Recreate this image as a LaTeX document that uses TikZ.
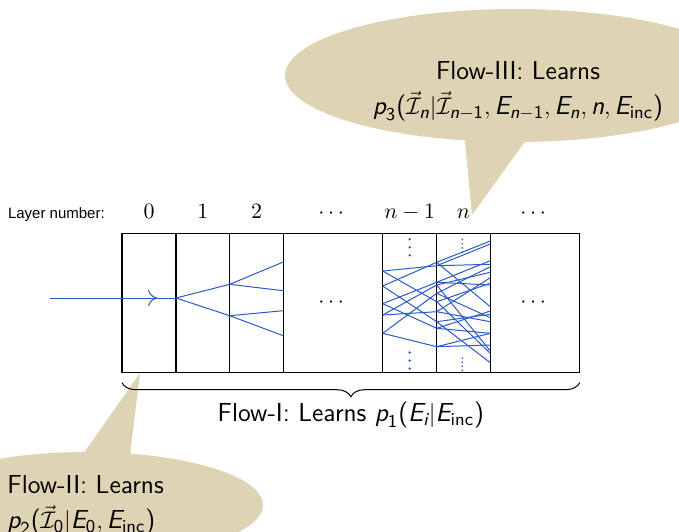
\documentclass[tikz,border=0pt]{standalone}
\usepackage{amsmath}
\usepackage{fontspec}
\usetikzlibrary{arrows.meta,positioning,backgrounds,shapes.callouts,decorations.pathreplacing,decorations.markings}
\newfontfamily\arialfont{Liberation Sans}
\definecolor{bubblecol}{RGB}{222,211,178}
\definecolor{flowblue}{RGB}{45,90,200}
% sans letters inside math
\newcommand{\si}[1]{\text{\itshape #1}}
\newcommand{\su}[1]{\text{#1}}

\begin{document}
\begin{tikzpicture}[
    x=0.5pt, y=-0.5pt,
    layerbox/.style={draw, line width=0.6pt, minimum height=69.7pt, inner sep=0pt, outer sep=0pt},
    layerlbl/.style={inner sep=0pt, text depth=0pt, font=\fontsize{11}{13}\selectfont},
    layernum/.style={inner sep=0pt, font=\arialfont\fontsize{7.5}{9}\selectfont},
    flow/.style={flowblue, line width=0.5pt},
    flowarrow/.style={flow, postaction={decorate},
                decoration={markings, mark=at position 0.85 with {\arrow{To[length=4.5pt,width=8pt]}}}},
    bubble/.style={ellipse callout, fill=bubblecol, draw=none, callout pointer arc=15},
    bubtext/.style={inner sep=0pt, font=\fontsize{13}{17.5}\selectfont\sffamily},
    vdot/.style={fill=flowblue, draw=none},
    brace/.style={decorate, decoration={brace, mirror, amplitude=7pt, raise=5pt}, line width=0.5pt}
]
\useasboundingbox (0,0) rectangle (679,531);

\node[layerbox, minimum width=27pt, anchor=north west] (L0) at (122,233.3) {};
\node[layerbox, minimum width=26.85pt, right=0pt of L0] (L1) {};
\node[layerbox, minimum width=26.8pt, right=0pt of L1] (L2) {};
\node[layerbox, minimum width=49.7pt, right=0pt of L2] (Ld) {};
\node[layerbox, minimum width=27pt, right=0pt of Ld] (Lm) {};
\node[layerbox, minimum width=26.8pt, right=0pt of Lm] (Ln) {};
\node[layerbox, minimum width=44.7pt, right=0pt of Ln] (Le) {};

\node[layerlbl, above=7pt of L0] (n0) {$0$};
\node[layerlbl, above=7pt of L1] (n1) {$1$};
\node[layerlbl, above=7pt of L2] (n2) {$2$};
\node[layerlbl, above=7pt of Ld] (nd) {$\cdots$};
\node[layerlbl, above=7pt of Lm] (nm) {$n-1$};
\node[layerlbl, above=7pt of Ln] (nn) {$n$};
\node[layerlbl, above=7pt of Le] (ne) {$\cdots$};
\node[layernum, anchor=base east] (lnum) at ([xshift=-19pt]n0.base west) {Layer number:};

\node[layerlbl] (cd) at (Ld) {$\cdots$};
\node[layerlbl] (ce) at (Le) {$\cdots$};

\coordinate (in) at (50,298);
\coordinate (s0) at (L1.west |- in);
\draw[flowarrow] (in) -- (s0);
\foreach \ya/\yb in {298/284.3, 298/315.7}
    \draw[flow] (L1.west |- 0,\ya) -- (L1.east |- 0,\yb);
\foreach \ya/\yb in {284.3/262, 284.3/290.7, 315.7/310.7, 315.7/335.7}
    \draw[flow] (L2.west |- 0,\ya) -- (L2.east |- 0,\yb);
\foreach \ya/\yb in {271/265.7, 271/301.7, 286/262.3, 286/321.7, 303.7/282.3, 303.7/328.3,
                     315/285, 315/311.7, 333.3/293.3, 333.3/346.7}
    \draw[flow] (Lm.west |- 0,\ya) -- (Lm.east |- 0,\yb);
\foreach \ya/\yb in {262.3/241, 262.3/306.7, 265.7/244, 265.7/264.3, 282.3/260.7, 282.3/285,
                     285/272.3, 285/351, 293.3/266.7, 293.3/317.7, 301.7/283.3, 301.7/353.3,
                     311.7/277.7, 311.7/321.7, 321.7/314.3, 321.7/362.7, 328.3/311, 328.3/333.3,
                     346.7/333.3, 346.7/345}
    \draw[flow] (Ln.west |- 0,\ya) -- (Ln.east |- 0,\yb);

\foreach \y in {239.3, 247.3, 255.3, 352.5, 360.5, 368.5}
    \fill[vdot] (Lm.north |- 0,\y) circle[radius=0.65pt];
\foreach \y in {239.5, 243.7, 247.9, 252.1, 358, 362.2, 366.4, 370.4}
    \fill[vdot] ([xshift=-0.6pt]Ln.north |- 0,\y) circle[radius=0.45pt];

\draw[brace] (L0.south west) -- (Le.south east)
    node[bubtext, midway, anchor=base, yshift=-24.6pt] (flow1)
    {Flow-I: Learns $\si{p}_{\su{1}}\su{(}\si{E}_{\si{i}}|\si{E}_{\su{inc}}\su{)}$};

\coordinate (tip3) at (472,215);
\coordinate (tip2) at (140,373);
\begin{scope}[on background layer]
\clip (0,0) rectangle (679,531);
\node[bubble, minimum width=230pt, minimum height=66.5pt, callout absolute pointer={(tip3)}] (bub3) at (515,75.5) {};
\node[bubble, minimum width=177pt, minimum height=53pt, callout absolute pointer={(tip2)}] (bub2) at (86,505) {};
\end{scope}

\node[bubtext, align=center, anchor=north] (txt3) at (518,61.5)
    {Flow-III: Learns\\$\si{p}_{\su{3}}\su{(}\vec{\mathcal{I}}_{\si{n}}|\vec{\mathcal{I}}_{\si{n}-\su{1}},
     \si{E}_{\si{n}-\su{1}}, \si{E}_{\si{n}}, \si{n}, \si{E}_{\su{inc}}\su{)}$};
\node[bubtext, align=left, anchor=north west] (txt2) at (7,475.3)
    {Flow-II: Learns\\$\si{p}_{\su{2}}\su{(}\vec{\mathcal{I}}_{\su{0}}|\si{E}_{\su{0}}, \si{E}_{\su{inc}}\su{)}$};

\end{tikzpicture}
\end{document}
